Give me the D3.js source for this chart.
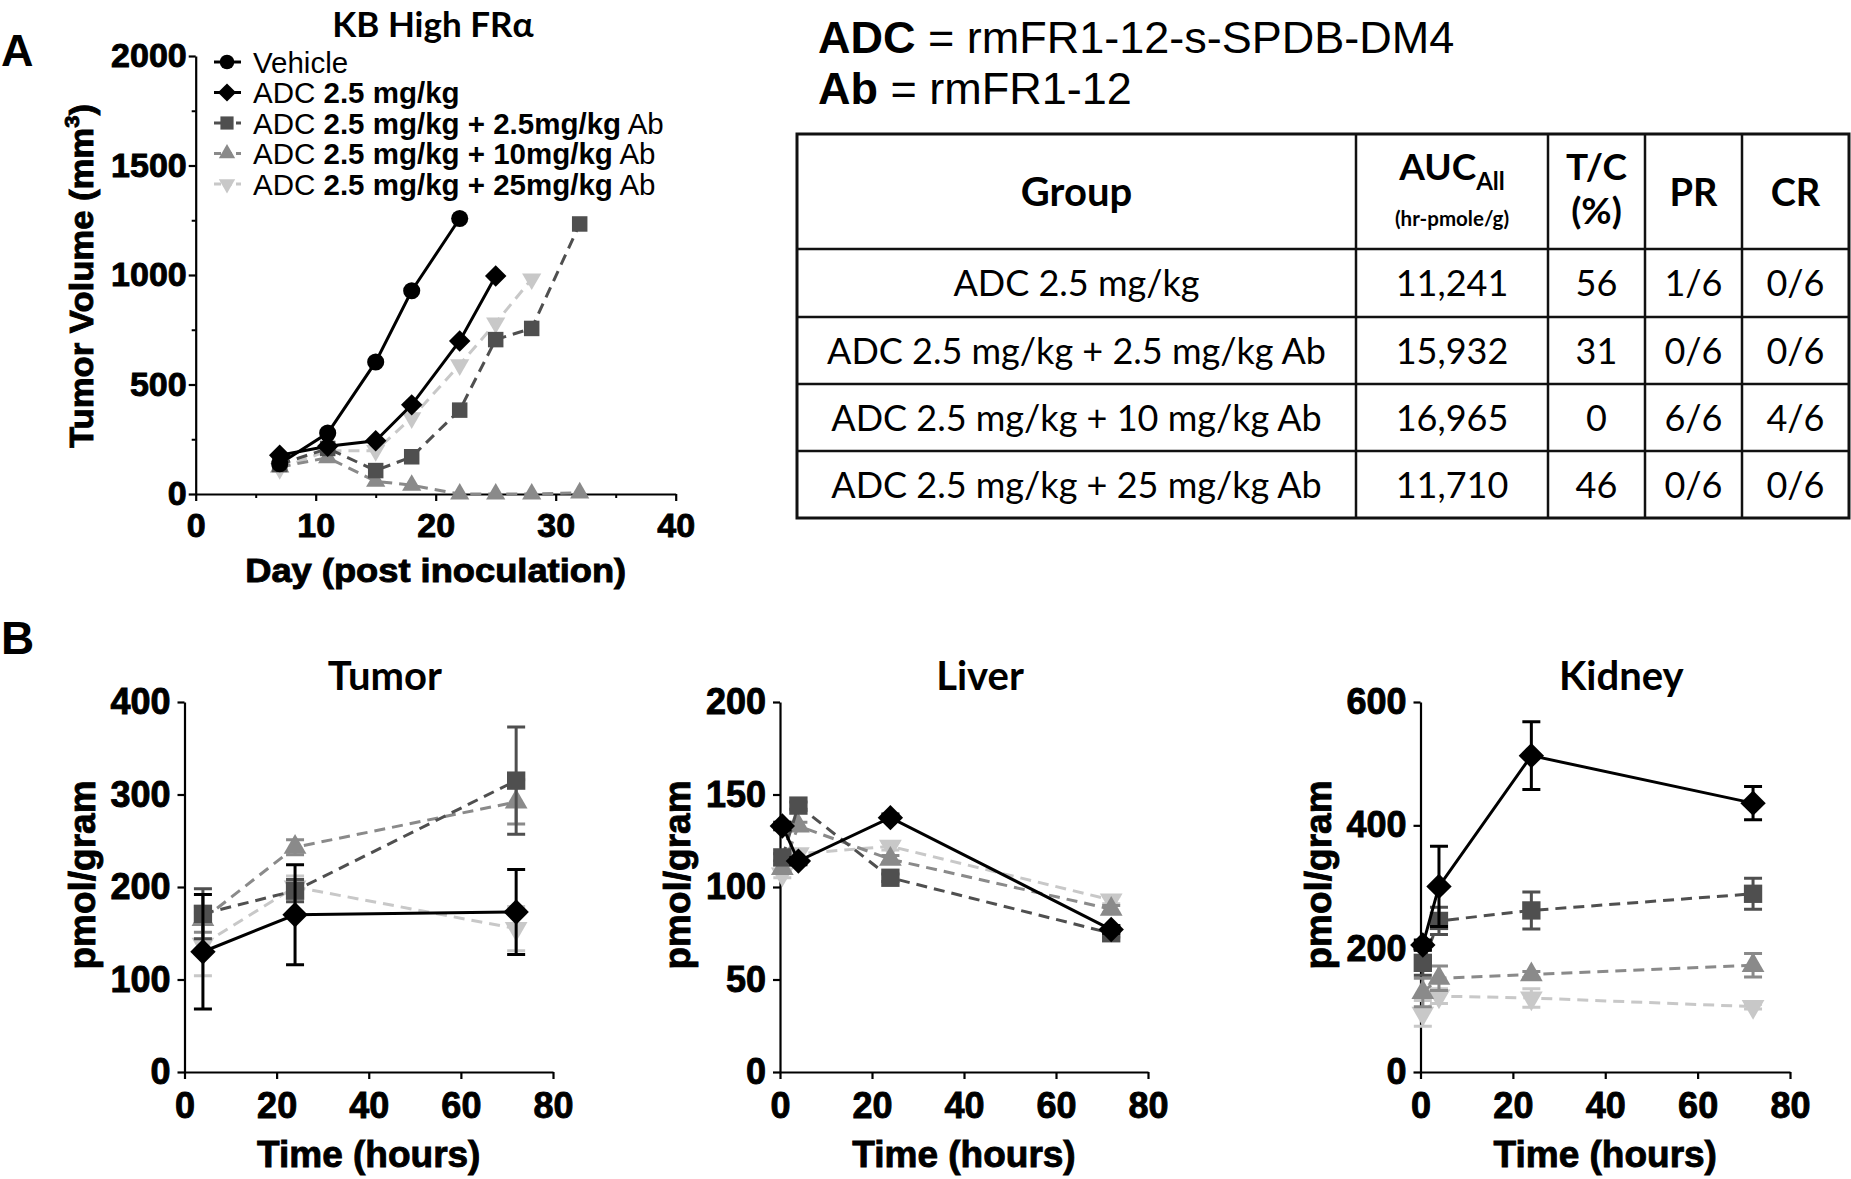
<!DOCTYPE html>
<html><head><meta charset="utf-8">
<script src="https://cdn.jsdelivr.net/npm/d3@7/dist/d3.min.js"></script>
<style>body{margin:0;background:#fff}svg{display:block}text{white-space:pre}</style>
</head><body>
<svg id="fig" width="1851" height="1179"></svg>
<script>
// ---------------- DATA ----------------
// Panel A : tumour growth (mm^3) vs day post inoculation
const legendLabels = ["Vehicle", "ADC *2.5 mg/kg*", "ADC *2.5 mg/kg + 2.5mg/kg* Ab", "ADC *2.5 mg/kg + 10mg/kg* Ab", "ADC *2.5 mg/kg + 25mg/kg* Ab"];
const vehicleDays = [7, 11, 15, 18, 22];
const vehicleVol  = [138, 278, 603, 928, 1258];
const adcDays = [7, 11, 15, 18, 22, 25];
const adcVol  = [177, 218, 243, 407, 699, 995];
const ab2_5Days = [7, 11, 15, 18, 22, 25, 28, 32];
const ab2_5Vol  = [135, 208, 107, 170, 383, 705, 756, 1233];
const ab10Days = [7, 11, 15, 18, 22, 25, 28, 32];
const ab10Vol  = [123, 166, 58, 40, 0, 0, 0, 5];
const ab25Days = [7, 11, 15, 18, 22, 25, 28];
const ab25Vol  = [116, 198, 198, 348, 590, 781, 982];
const dayTicks = [0, 10, 20, 30, 40];
const volTicks = [0, 500, 1000, 1500, 2000];

// Table
const tableHead = ["Group", "AUC", "T/C", "PR", "CR"];
const tableGroups = ["ADC 2.5 mg/kg", "ADC 2.5 mg/kg + 2.5 mg/kg Ab", "ADC 2.5 mg/kg + 10 mg/kg Ab", "ADC 2.5 mg/kg + 25 mg/kg Ab"];
const aucAll = [11241, 15932, 16965, 11710];
const tcPct  = [56, 31, 0, 46];
const prFrac = ["1/6", "0/6", "6/6", "0/6"];
const crFrac = ["0/6", "0/6", "4/6", "0/6"];

// Panel B : pmol/gram vs time (hours)
const tumorHours = [4, 24, 72];
const tumorADC = [130, 170, 173],   tumorADCErr = [62, 54, 46];
const tumorAb2_5 = [171, 196, 315], tumorAb2_5Err = [27, 12, 58];
const tumorAb10 = [165, 243, 292],  tumorAb10Err = [14, 8, 24];
const tumorAb25 = [138, 200, 155],  tumorAb25Err = [34, 12, 24];

const liverHours = [0.5, 4, 24, 72];
const liverADC = [133, 114, 137.5, 77],  liverADCErr = [2, 2, 2, 2];
const liverAb2_5 = [116, 144, 105, 75],  liverAb2_5Err = [2, 2, 2, 2];
const liverAb10 = [110, 133, 115, 88],   liverAb10Err = [2, 2, 2, 2];
const liverAb25 = [107, 118, 122, 93],   liverAb25Err = [2, 2, 2, 2];

const kidneyHours = [0.5, 4, 24, 72];
const kidneyADC = [206, 301, 513, 436],  kidneyADCErr = [8, 65, 55, 27];
const kidneyAb2_5 = [177, 245, 262, 289], kidneyAb2_5Err = [20, 22, 30, 25];
const kidneyAb10 = [129, 152, 158, 173], kidneyAb10Err = [23, 20, 5, 19];
const kidneyAb25 = [95, 123, 120, 106],  kidneyAb25Err = [21, 12, 15, 4];

const hourTicks = [0, 20, 40, 60, 80];
const tumorTicks = [0, 100, 200, 300, 400];
const liverTicks = [0, 50, 100, 150, 200];
const kidneyTicks = [0, 200, 400, 600];

// ---------------- STYLE ----------------
const ARIAL = "'Liberation Sans', Arial, sans-serif";
const CAL = "Lato, 'Open Sans', sans-serif";
const colors = ["#000000", "#000000", "#4f4f4f", "#8a8a8a", "#c8c8c8"];
const dashes = [null, null, "11,7", "11,7", "11,7"];
function markerPath(i, big) {
  const k = big ? 1.4 : 1;
  if (i === 0) return d3.symbol(d3.symbolCircle, 230 * k)();
  if (i === 1) return d3.symbol(d3.symbolSquare, 230 * k)();
  if (i === 2) return d3.symbol(d3.symbolSquare, 240 * k)();
  return d3.symbol(d3.symbolTriangle, 160 * k)();
}
function markerRot(i) { return i === 1 ? 45 : (i === 4 ? 180 : 0); }

const svg = d3.select("#fig");

function rich(sel, str) {
  str.split("*").forEach((p, i) => { if (p) sel.append("tspan").attr("font-weight", i % 2 ? "bold" : "normal").text(p); });
}
function heavy(sel, w) { return sel.attr("stroke", "#000").attr("stroke-width", w).attr("paint-order", "stroke"); }

function drawSeries(g, x, y, i, xs, ys, errs, big) {
  const pts = xs.map((d, k) => [d, ys[k], errs ? errs[k] : 0]);
  const line = d3.line().x(d => x(d[0])).y(d => y(d[1]));
  const s = g.append("g");
  s.append("path").attr("d", line(pts)).attr("fill", "none").attr("stroke", colors[i])
    .attr("stroke-width", 3).attr("stroke-dasharray", dashes[i]);
  if (errs) {
    pts.forEach(p => {
      if (p[2] <= 0) return;
      const cx = x(p[0]);
      s.append("path").attr("d", `M${cx},${y(p[1] - p[2])}V${y(p[1] + p[2])}M${cx - 9},${y(p[1] + p[2])}H${cx + 9}M${cx - 9},${y(p[1] - p[2])}H${cx + 9}`)
        .attr("stroke", colors[i]).attr("stroke-width", 3).attr("fill", "none");
    });
  }
  pts.forEach(p => {
    s.append("path").attr("d", markerPath(i, big))
      .attr("transform", `translate(${x(p[0])},${y(p[1])}) rotate(${markerRot(i)})`)
      .attr("fill", colors[i]);
  });
}

function styleAxis(ax, fs, sx) {
  ax.select(".domain").attr("stroke", "#000").attr("stroke-width", 2.2);
  ax.selectAll(".tick line").attr("stroke", "#000").attr("stroke-width", 2.2);
  const t = ax.selectAll(".tick text").attr("font-family", ARIAL).attr("font-weight", "bold")
    .attr("font-size", fs).attr("fill", "#000");
  heavy(t, 0.9);
  if (sx) t.attr("transform", `scale(${sx},1)`);
}
const fmtInt = d3.format("d");

// ---------------- PANEL A ----------------
const xA = d3.scaleLinear().domain([0, 40]).range([195.7, 675.7]);
const yA = d3.scaleLinear().domain([0, 2000]).range([494, 56]);
const gA = svg.append("g");
gA.append("g").attr("transform", `translate(0,${yA(0)})`)
  .call(d3.axisBottom(xA).tickValues([5, 15, 25, 35]).tickSize(4).tickSizeOuter(0).tickFormat(""))
  .call(a => { a.select(".domain").remove(); a.selectAll("line").attr("stroke", "#000").attr("stroke-width", 2); });
gA.append("g").attr("transform", `translate(${xA(0)},0)`)
  .call(d3.axisLeft(yA).tickValues([250, 750, 1250, 1750]).tickSize(4).tickSizeOuter(0).tickFormat(""))
  .call(a => { a.select(".domain").remove(); a.selectAll("line").attr("stroke", "#000").attr("stroke-width", 2); });
gA.append("g").attr("transform", `translate(0,${yA(0)})`)
  .call(d3.axisBottom(xA).tickValues(dayTicks).tickSize(7).tickPadding(12).tickSizeOuter(0).tickFormat(fmtInt))
  .call(a => styleAxis(a, 34, null));
gA.append("g").attr("transform", `translate(${xA(0)},0)`)
  .call(d3.axisLeft(yA).tickValues(volTicks).tickSize(7).tickPadding(2).tickSizeOuter(0).tickFormat(fmtInt))
  .call(a => styleAxis(a, 34, null));

const aSeries = [[vehicleDays, vehicleVol], [adcDays, adcVol], [ab2_5Days, ab2_5Vol], [ab10Days, ab10Vol], [ab25Days, ab25Vol]];
[4, 3, 2, 1, 0].forEach(i => drawSeries(gA, xA, yA, i, aSeries[i][0], aSeries[i][1], null, false));

// legend
legendLabels.forEach((lab, i) => {
  const ly = 62 + i * 30.5;
  const lg = gA.append("g");
  lg.append("line").attr("x1", 214).attr("x2", 241).attr("y1", ly).attr("y2", ly)
    .attr("stroke", colors[i]).attr("stroke-width", 3).attr("stroke-dasharray", dashes[i] ? "7,4" : null);
  lg.append("path").attr("d", markerPath(i, false)).attr("transform", `translate(227,${ly}) rotate(${markerRot(i)}) scale(0.85)`).attr("fill", colors[i]);
  const t = lg.append("text").attr("x", 253).attr("y", ly + 10.5).attr("font-family", ARIAL).attr("font-size", 29.5).attr("fill", "#000");
  rich(t, lab);
});

// axis titles A
heavy(gA.append("text").attr("transform", `translate(${(xA(0) + xA(40)) / 2},582) scale(1.1,1)`).attr("text-anchor", "middle")
  .attr("font-family", ARIAL).attr("font-weight", "bold").attr("font-size", 33).text("Day (post inoculation)"), 0.9);
const yt = gA.append("text").attr("transform", `translate(93,276) rotate(-90) scale(1.05,1)`).attr("text-anchor", "middle")
  .attr("font-family", ARIAL).attr("font-weight", "bold").attr("font-size", 33);
heavy(yt, 0.9);
yt.append("tspan").text("Tumor Volume (mm");
yt.append("tspan").attr("font-size", 21).attr("dy", -14).text("3");
yt.append("tspan").attr("dy", 14).text(")");
gA.append("text").attr("x", 433).attr("y", 37).attr("text-anchor", "middle").attr("font-family", CAL)
  .attr("font-weight", "bold").attr("font-size", 35).text("KB High FRα");
svg.append("text").attr("x", 1).attr("y", 66).attr("font-family", ARIAL).attr("font-weight", "bold").attr("font-size", 45).text("A");
svg.append("text").attr("x", 1).attr("y", 654).attr("font-family", ARIAL).attr("font-weight", "bold").attr("font-size", 46).text("B");

// ---------------- TABLE ----------------
const t1 = svg.append("text").attr("x", 818).attr("y", 53).attr("font-family", ARIAL).attr("font-size", 45);
rich(t1, "*ADC* = rmFR1-12-s-SPDB-DM4");
const t2 = svg.append("text").attr("x", 818).attr("y", 104).attr("font-family", ARIAL).attr("font-size", 45);
rich(t2, "*Ab* = rmFR1-12");

const colX = [797, 1356, 1548, 1645, 1742, 1849];
const rowY = [134, 249, 317, 384, 451, 518];
const tb = svg.append("g");
tb.append("rect").attr("x", colX[0]).attr("y", rowY[0]).attr("width", colX[5] - colX[0]).attr("height", rowY[5] - rowY[0])
  .attr("fill", "none").attr("stroke", "#111").attr("stroke-width", 3);
colX.slice(1, 5).forEach(cx => tb.append("line").attr("x1", cx).attr("x2", cx).attr("y1", rowY[0]).attr("y2", rowY[5]).attr("stroke", "#111").attr("stroke-width", 2.5));
rowY.slice(1, 5).forEach(ry => tb.append("line").attr("x1", colX[0]).attr("x2", colX[5]).attr("y1", ry).attr("y2", ry).attr("stroke", "#111").attr("stroke-width", 2.5));
const cc = k => (colX[k] + colX[k + 1]) / 2;
function ttext(x, y, s, fs, bold) {
  return tb.append("text").attr("x", x).attr("y", y).attr("text-anchor", "middle").attr("font-family", CAL)
    .attr("font-size", fs).attr("font-weight", bold ? "bold" : "normal").attr("fill", "#000").text(s);
}
ttext(cc(0), 206, tableHead[0], 40, true);
const auc = ttext(cc(1), 180, "", 37, true);
auc.append("tspan").text(tableHead[1]);
auc.append("tspan").attr("font-size", 24).attr("dy", 10).text("All");
ttext(cc(1), 226, "(hr-pmole/g)", 20.5, true);
ttext(cc(2), 180, tableHead[2], 37, true);
ttext(cc(2), 224, "(%)", 37, true);
ttext(cc(3), 206, tableHead[3], 38, true);
ttext(cc(4), 206, tableHead[4], 38, true);
const fmt = d3.format(",");
tableGroups.forEach((g, r) => {
  const by = (rowY[r + 1] + rowY[r + 2]) / 2 + 13;
  ttext(cc(0), by, g, 36, false);
  ttext(cc(1), by, fmt(aucAll[r]), 36, false);
  ttext(cc(2), by, tcPct[r], 36, false);
  ttext(cc(3), by, prFrac[r], 36, false);
  ttext(cc(4), by, crFrac[r], 36, false);
});

// ---------------- PANEL B ----------------
const panelsB = [
  { title: "Tumor", x0: 184.5, x1: 553, max: 400, ticks: tumorTicks, hours: tumorHours,
    s: [[tumorADC, tumorADCErr], [tumorAb2_5, tumorAb2_5Err], [tumorAb10, tumorAb10Err], [tumorAb25, tumorAb25Err]] },
  { title: "Liver", x0: 780, x1: 1148, max: 200, ticks: liverTicks, hours: liverHours,
    s: [[liverADC, liverADCErr], [liverAb2_5, liverAb2_5Err], [liverAb10, liverAb10Err], [liverAb25, liverAb25Err]] },
  { title: "Kidney", x0: 1420.5, x1: 1790, max: 600, ticks: kidneyTicks, hours: kidneyHours,
    s: [[kidneyADC, kidneyADCErr], [kidneyAb2_5, kidneyAb2_5Err], [kidneyAb10, kidneyAb10Err], [kidneyAb25, kidneyAb25Err]] }
];
panelsB.forEach(p => {
  const x = d3.scaleLinear().domain([0, 80]).range([p.x0, p.x1]);
  const y = d3.scaleLinear().domain([0, p.max]).range([1072, 702]);
  const g = svg.append("g");
  g.append("g").attr("transform", `translate(0,${y(0)})`)
    .call(d3.axisBottom(x).tickValues(hourTicks).tickSize(7).tickPadding(13).tickSizeOuter(0).tickFormat(fmtInt))
    .call(a => styleAxis(a, 36, null));
  g.append("g").attr("transform", `translate(${x(0)},0)`)
    .call(d3.axisLeft(y).tickValues(p.ticks).tickSize(7).tickPadding(7).tickSizeOuter(0).tickFormat(fmtInt))
    .call(a => styleAxis(a, 36, null));
  [3, 2, 1, 0].forEach(k => drawSeries(g, x, y, k + 1, p.hours, p.s[k][0], p.s[k][1], true));
  heavy(g.append("text").attr("x", (p.x0 + p.x1) / 2).attr("y", 1167).attr("text-anchor", "middle")
    .attr("font-family", ARIAL).attr("font-weight", "bold").attr("font-size", 37).text("Time (hours)"), 0.9);
  heavy(g.append("text").attr("transform", `translate(${p.x0 - 90},875) rotate(-90)`).attr("text-anchor", "middle")
    .attr("font-family", ARIAL).attr("font-weight", "bold").attr("font-size", 37).text("pmol/gram"), 0.9);
  g.append("text").attr("x", (p.x0 + p.x1) / 2 + 16).attr("y", 690).attr("text-anchor", "middle")
    .attr("font-family", CAL).attr("font-weight", "bold").attr("font-size", 40).text(p.title);
});
</script>
</body></html>
